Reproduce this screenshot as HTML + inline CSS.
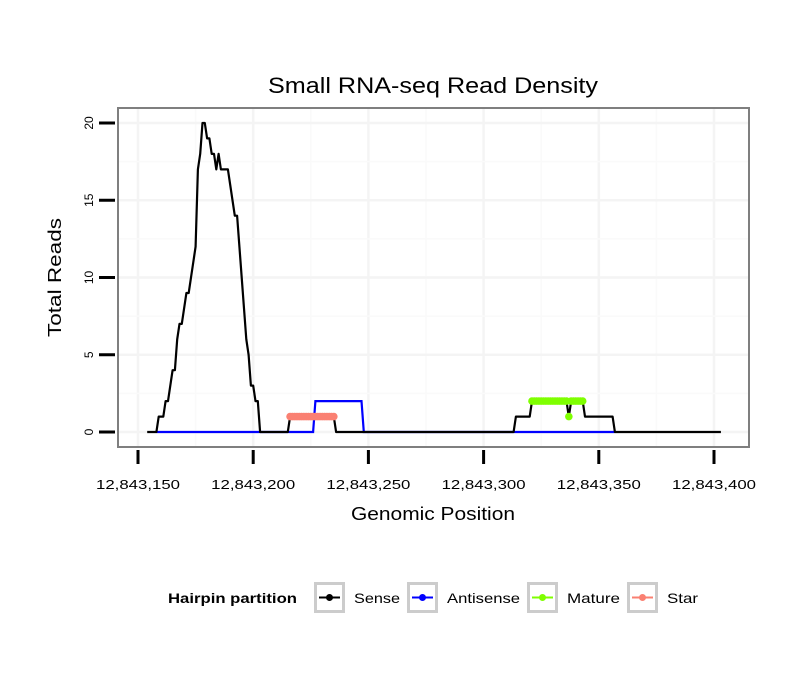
<!DOCTYPE html>
<html><head><meta charset="utf-8"><style>
body{margin:0;background:#fff}
svg{display:block;font-family:"Liberation Sans",sans-serif}
</style></head><body>
<svg id="c" width="810" height="690" xmlns="http://www.w3.org/2000/svg">
<text x="433" y="93" font-size="22" text-anchor="middle" textLength="330" lengthAdjust="spacingAndGlyphs">Small RNA-seq Read Density</text>
<rect x="118" y="108" width="631" height="339" fill="#fff"/>
<g id="grid"></g>
<g id="series"></g>
<rect x="118" y="108" width="631" height="339" fill="none" stroke="#7f7f7f" stroke-width="2"/>
<g id="axes"></g>
<text x="433" y="520" font-size="18" text-anchor="middle" textLength="164" lengthAdjust="spacingAndGlyphs">Genomic Position</text>
<text transform="translate(61,277.5) rotate(-90)" font-size="18" text-anchor="middle" textLength="119" lengthAdjust="spacingAndGlyphs">Total Reads</text>
<g>
<text x="168" y="603" font-size="14" font-weight="bold" textLength="129" lengthAdjust="spacingAndGlyphs">Hairpin partition</text>
<g id="legend"></g>
</g>
</svg>
<script>
const BASE = 12843150;
const xTicks = [12843150,12843200,12843250,12843300,12843350,12843400];
const xTickLabels = ["12,843,150","12,843,200","12,843,250","12,843,300","12,843,350","12,843,400"];
const yTicks = [0,5,10,15,20];
const senseOffsets = [4,8,9,11,12,13,14,15,16,17,18,19,21,22,23,24,25,26,27,28,29,30,31,32,33,34,35,36,37,38,39,40,41,42,43,44,45,46,47,48,49,50,51,52,53,65,66,85,86,163,164,170,171,186,187,188,193,194,206,207,253];
const senseValues  = [0,0,1,1,2,2,3,4,4,6,7,7,9,9,10,11,12,17,18,20,20,19,19,18,18,17,18,17,17,17,17,16,15,14,14,12,10,8,6,5,3,3,2,2,0,0,1,1,0,0,1,1,2,2,1,2,2,1,1,0,0];
const antiOffsets = [8,76,77,97,98,207];
const antiValues  = [0,0,2,2,0,0];
const matureOffsets = [171,172,173,174,175,176,177,178,179,180,181,182,183,184,185,186,187,188,189,190,191,192,193];
const matureValues  = [2,2,2,2,2,2,2,2,2,2,2,2,2,2,2,2,1,2,2,2,2,2,2];
const starOffsets = [66,67,68,69,70,71,72,73,74,75,76,77,78,79,80,81,82,83,84,85];
const starValues  = [1,1,1,1,1,1,1,1,1,1,1,1,1,1,1,1,1,1,1,1];

const NS="http://www.w3.org/2000/svg";
const X = v => 138 + (v-BASE)*(576/250);
const Y = v => 432 - v*(309/20);
function mk(tag, attrs, parent){const e=document.createElementNS(NS,tag);for(const k in attrs)e.setAttribute(k,attrs[k]);parent.appendChild(e);return e;}
const grid=document.getElementById('grid'), series=document.getElementById('series'), axes=document.getElementById('axes');
for(let v=BASE-25; v<=BASE+275; v+=25){const x=X(v); if(x<119||x>748)continue;
  const g=mk('line',{x1:x,x2:x,y1:109,y2:446,stroke:(v-BASE)%50===0?'#f4f4f4':'#fafafa','stroke-width':(v-BASE)%50===0?2.5:1.5},grid);
  
  }
for(let v=-2.5; v<=22.5; v+=2.5){const y=Y(v); if(y<109||y>446)continue;
  const g=mk('line',{x1:119,x2:748,y1:y,y2:y,stroke:v%5===0?'#f4f4f4':'#fafafa','stroke-width':v%5===0?2.5:1.5},grid);
  
  }
function path(off,val){return off.map((o,i)=>(i?'L':'M')+X(BASE+o).toFixed(1)+','+Y(val[i]).toFixed(1)).join('');}
const pa=mk('path',{d:path(antiOffsets,antiValues),fill:'none',stroke:'#0000ff','stroke-width':2.2},series);


const ps=mk('path',{d:path(senseOffsets,senseValues),fill:'none',stroke:'#000','stroke-width':2.2,'stroke-linejoin':'round'},series);


function pts(off,val,color,name){const g=mk('g',{},series);
  
  
  off.forEach((o,i)=>{const c=mk('circle',{cx:X(BASE+o),cy:Y(val[i]),r:3.8,fill:color},g);
    
    });}
pts(starOffsets,starValues,'#fa8072','star-points');
pts(matureOffsets,matureValues,'#7fff00','mature-points');
xTicks.forEach((t,i)=>{const x=X(t);
  const l=mk('line',{x1:x,x2:x,y1:450,y2:464,stroke:'#000','stroke-width':3},axes);
  
  
  const tx=mk('text',{x:x,y:489,'font-size':13,'text-anchor':'middle',textLength:84,lengthAdjust:'spacingAndGlyphs'},axes);tx.textContent=xTickLabels[i];
  
  });
yTicks.forEach(t=>{const y=Y(t);
  const l=mk('line',{x1:99,x2:115,y1:y,y2:y,stroke:'#000','stroke-width':3},axes);
  
  
  const tx=mk('text',{transform:`translate(93,${y}) rotate(-90)`,'font-size':12,'text-anchor':'middle'},axes);tx.textContent=String(t);
  
  });
const leg=[["Sense","#000",314,354,46],["Antisense","#0000ff",407,447,73],["Mature","#7fff00",527,567,53],["Star","#fa8072",627,667,31]];
const lg=document.getElementById('legend');
leg.forEach(([n,c,bx,tx,w])=>{const g=mk('g',{},lg);
  
  
  mk('rect',{x:bx+1.5,y:583.5,width:28,height:28,fill:'#fff',stroke:'#cccccc','stroke-width':3},g);
  mk('line',{x1:bx+5,x2:bx+26,y1:597.5,y2:597.5,stroke:c,'stroke-width':2},g);
  mk('circle',{cx:bx+15.5,cy:597.5,r:3.5,fill:c},g);
  const t=mk('text',{x:tx,y:603,'font-size':14,textLength:w,lengthAdjust:'spacingAndGlyphs'},g);t.textContent=n;});
</script>
</body></html>
